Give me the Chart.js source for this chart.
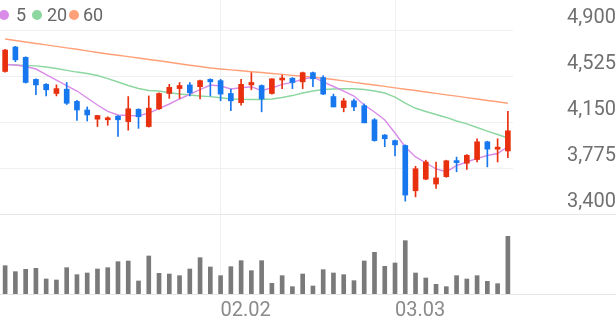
<!DOCTYPE html>
<html>
<head>
<meta charset="utf-8">
<script src="https://cdn.jsdelivr.net/npm/chart.js@4.4.1/dist/chart.umd.min.js"></script>
<style>
  html, body { margin: 0; padding: 0; background: #fff; }
  #wrap { position: relative; width: 616px; height: 321px; overflow: hidden; }
  .lg { position: absolute; top: 0; font: 18px Roboto, sans-serif; color: #666; line-height: 30px; }
  .dot { position: absolute; top: 10px; width: 10px; height: 10px; border-radius: 50%; }
</style>
</head>
<body>
<div id="wrap">
  <canvas id="chart"></canvas>
  <span class="dot" style="left:-1px;background:#d88ce8"></span><span class="lg" style="left:16px">5</span>
  <span class="dot" style="left:32px;background:#8cd7a0"></span><span class="lg" style="left:47px">20</span>
  <span class="dot" style="left:69px;background:#ffa078"></span><span class="lg" style="left:83px">60</span>
</div>
<script>
const dates = ['01.02','01.05','01.06','01.07','01.08','01.09','01.12','01.13','01.14','01.15','01.16','01.19','01.20','01.21','01.22','01.23','01.26','01.27','01.28','01.29','01.30',
  '02.02','02.03','02.04','02.05','02.06','02.09','02.10','02.11','02.12','02.13','02.19','02.20','02.23','02.24','02.25','02.26','02.27',
  '03.03','03.04','03.05','03.06','03.09','03.10','03.11','03.12','03.13','03.16','03.17','03.18'];

const opens  = [4565,4765,4680,4500,4460,4385,4420,4320,4250,4175,4170,4200,4155,4255,4115,4260,4385,4425,4455,4440,
  4500,4490,4385,4310,4455,4450,4385,4495,4510,4480,4555,4515,4360,4270,4325,4285,4170,4045,4000,3960,
  3590,3685,3645,3705,3835,3815,3845,3990,3930,3915];
const highs  = [4745,4770,4685,4505,4465,4455,4475,4330,4275,4205,4195,4205,4360,4260,4365,4390,4460,4475,4475,4495,
  4505,4500,4420,4500,4555,4455,4505,4535,4515,4560,4560,4530,4380,4345,4340,4300,4180,4050,4005,3965,
  3790,3840,3825,3840,3865,3885,4015,3995,4015,4240];
const lows   = [4560,4645,4470,4375,4365,4365,4295,4165,4160,4115,4125,4035,4085,4100,4110,4255,4345,4345,4365,4340,
  4365,4325,4245,4290,4415,4235,4380,4425,4425,4425,4440,4375,4275,4235,4245,4145,3995,3950,3875,3505,
  3540,3680,3610,3700,3745,3765,3825,3785,3825,3860];
const closes = [4740,4660,4475,4455,4415,4425,4305,4250,4210,4205,4185,4170,4260,4195,4265,4385,4435,4450,4390,4490,
  4480,4380,4325,4460,4475,4340,4505,4510,4475,4555,4505,4380,4275,4325,4275,4145,4000,4015,3965,3555,
  3770,3825,3695,3835,3820,3880,3990,3930,3940,4080];

const ma5  = [4622,4618,4605,4585,4540,4495,4450,4405,4348,4291,4238,4209,4205,4203,4225,4262,4299,4340,4377,4417,
  4454,4446,4422,4432,4440,4409,4430,4460,4476,4501,4520,4479,4442,4405,4364,4291,4234,4168,4062,3948,
  3866,3819,3768,3746,3796,3825,3855,3878,3894,3952];
const ma20 = [4623,4619,4615,4611,4601,4589,4574,4560,4548,4532,4507,4479,4450,4426,4409,4405,4391,4381,4373,4364,
  4359,4350,4340,4337,4336,4336,4340,4352,4368,4389,4405,4417,4422,4424,4424,4417,4405,4389,4356,4307,
  4264,4238,4213,4189,4160,4136,4107,4078,4050,4021];
const ma60 = [4830,4818,4806,4794,4782,4770,4758,4746,4733,4720,4708,4697,4686,4675,4663,4652,4640,4628,4616,4605,
  4593,4585,4578,4571,4563,4556,4548,4541,4533,4526,4518,4510,4499,4488,4476,4465,4454,4443,4431,4420,
  4409,4397,4386,4374,4363,4351,4340,4328,4317,4305];

const volumes = [850000,670000,740000,770000,450000,420000,790000,580000,630000,750000,790000,970000,990000,390000,1140000,620000,600000,550000,750000,1090000,
  810000,550000,820000,1000000,700000,1000000,320000,550000,220000,600000,240000,730000,630000,580000,400000,990000,1250000,830000,930000,1600000,
  630000,480000,290000,220000,550000,450000,550000,380000,310000,1730000];

const priceTicks = [3400, 3775, 4150, 4525, 4900];

const RED = '#e8300f', BLUE = '#1677ee';
const upColor = ctx => closes[ctx.dataIndex] >= opens[ctx.dataIndex] ? RED : BLUE;
const monthStart = i => i > 0 && dates[i].slice(0, 2) !== dates[i - 1].slice(0, 2);

const separators = {
  id: 'separators',
  beforeDatasetsDraw(chart) {
    const { ctx, width } = chart;
    const ys = [chart.scales.y.getPixelForValue(priceTicks[0]), chart.scales.v.getPixelForValue(0)];
    ctx.save();
    ctx.strokeStyle = '#e6e6e6';
    ctx.lineWidth = 1;
    ys.forEach(y => {
      const py = Math.round(y) + 0.5;
      ctx.beginPath(); ctx.moveTo(0, py); ctx.lineTo(width, py); ctx.stroke();
    });
    ctx.restore();
  }
};

const canvas = document.getElementById('chart');
canvas.width = 616; canvas.height = 321;

new Chart(canvas, {
  type: 'bar',
  data: {
    labels: dates,
    datasets: [
      { label: 'body', data: opens.map((o, i) => [o, closes[i]]), backgroundColor: upColor,
        barThickness: 5, minBarLength: 2, grouped: false, yAxisID: 'y', order: 0 },
      { label: 'wick', data: lows.map((l, i) => [l, highs[i]]), backgroundColor: upColor,
        barThickness: 1, grouped: false, yAxisID: 'y', order: 1 },
      { type: 'line', label: '5', data: ma5, borderColor: '#d88ce8', borderWidth: 1.4,
        pointRadius: 0, yAxisID: 'y', order: 2 },
      { type: 'line', label: '20', data: ma20, borderColor: '#8cd7a0', borderWidth: 1.4,
        pointRadius: 0, yAxisID: 'y', order: 3 },
      { type: 'line', label: '60', data: ma60, borderColor: '#ffa078', borderWidth: 1.4,
        pointRadius: 0, yAxisID: 'y', order: 4 },
      { label: 'volume', data: volumes, backgroundColor: '#7a7a7a',
        barThickness: 4, grouped: false, yAxisID: 'v', order: 5 }
    ]
  },
  options: {
    responsive: false,
    animation: false,
    layout: { padding: 0 },
    plugins: { legend: { display: false }, tooltip: { enabled: false } },
    scales: {
      x: {
        offset: true,
        grid: { offset: false, drawTicks: false, color: ctx => monthStart(ctx.index) ? '#efefef' : 'rgba(0,0,0,0)' },
        border: { display: false },
        ticks: { autoSkip: false, maxRotation: 0, align: 'start', padding: 5, color: '#8a8a8a',
          font: { family: 'Roboto', size: 20 },
          callback: (v, i) => monthStart(i) ? dates[i] : '' },
        afterFit: s => { s.height = 27; s.paddingLeft = 0; s.paddingRight = 0; }
      },
      y: {
        position: 'right', stack: 'p', stackWeight: 214, min: 3400, max: 5149,
        afterBuildTicks: s => { s.ticks = priceTicks.map(v => ({ value: v })); },
        afterFit: s => { s.width = 103; s.paddingTop = 0; s.paddingBottom = 0; },
        grid: { color: '#f0f0f0', drawTicks: false },
        border: { display: false },
        ticks: { crossAlign: 'far', padding: 50, labelOffset: -12, color: '#707070',
          font: { family: 'Roboto', size: 20 },
          callback: v => v.toLocaleString('en-US') }
      },
      v: {
        position: 'right', stack: 'p', stackWeight: 80, min: 0, max: 2400000,
        afterFit: s => { s.width = 103; s.paddingTop = 0; s.paddingBottom = 0; },
        grid: { display: false },
        border: { display: false },
        ticks: { display: false }
      }
    }
  },
  plugins: [separators]
});
</script>
</body>
</html>
